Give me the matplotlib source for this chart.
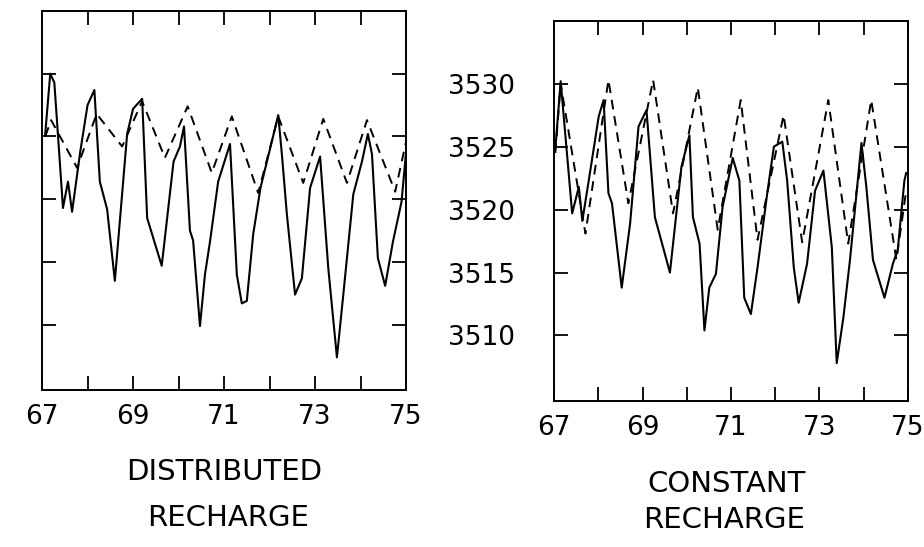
import numpy as np
import matplotlib.pyplot as plt

plt.rcParams['font.family'] = ['DejaVu Sans']

# ---------------- data ----------------
# left panel: distributed recharge
dist_obs_x = [67.07, 67.18, 67.27, 67.46, 67.57, 67.66, 67.84, 68.00, 68.15, 68.27,
              68.43, 68.60, 68.87, 69.00, 69.20, 69.31, 69.63, 69.89, 70.03, 70.12,
              70.25, 70.32, 70.47, 70.58, 70.69, 70.87, 71.13, 71.28, 71.39, 71.50,
              71.64, 71.80, 72.05, 72.19, 72.27, 72.38, 72.56, 72.71, 72.89, 73.11,
              73.29, 73.48, 73.62, 73.84, 74.03, 74.16, 74.25, 74.38, 74.54, 74.71,
              74.90, 75.00]
dist_obs_y = [3525.2, 3530.0, 3529.3, 3519.3, 3521.4, 3519.0, 3523.8, 3527.5, 3528.7, 3521.4,
              3519.2, 3513.5, 3525.2, 3527.2, 3528.0, 3518.5, 3514.7, 3523.0, 3524.2, 3525.8,
              3517.5, 3516.7, 3509.9, 3514.0, 3516.6, 3521.4, 3524.4, 3514.0, 3511.7, 3511.9,
              3517.2, 3520.9, 3524.6, 3526.7, 3523.6, 3518.8, 3512.4, 3513.7, 3520.9, 3523.4,
              3514.5, 3507.4, 3512.4, 3520.4, 3523.0, 3525.2, 3523.6, 3515.3, 3513.1, 3516.6,
              3519.8, 3523.8]
dist_sim_x = [67.07, 67.20, 67.77, 68.20, 68.76, 69.20, 69.70, 70.20, 70.73, 71.17,
              71.75, 72.19, 72.74, 73.18, 73.70, 74.14, 74.76, 75.00]
dist_sim_y = [3525.0, 3526.3, 3522.5, 3526.8, 3524.2, 3527.8, 3523.3, 3527.4, 3522.1, 3526.6,
              3520.5, 3526.6, 3521.3, 3526.4, 3521.3, 3526.3, 3520.6, 3524.6]

# right panel: constant recharge
const_obs_x = [67.04, 67.15, 67.41, 67.56, 67.64, 67.82, 68.01, 68.12, 68.23, 68.31,
               68.53, 68.72, 68.91, 69.09, 69.28, 69.62, 69.88, 70.06, 70.14, 70.29,
               70.40, 70.51, 70.66, 70.81, 71.04, 71.19, 71.30, 71.45, 71.60, 71.82,
               71.97, 72.16, 72.27, 72.42, 72.53, 72.72, 72.90, 73.09, 73.28, 73.39,
               73.54, 73.69, 73.95, 74.06, 74.21, 74.47, 74.66, 74.77, 74.92, 74.96]
const_obs_y = [3525.3, 3530.2, 3519.7, 3521.8, 3519.1, 3523.1, 3527.4, 3528.7, 3521.3, 3520.5,
               3513.8, 3518.9, 3526.6, 3527.9, 3519.4, 3515.0, 3523.4, 3525.9, 3519.4, 3517.3,
               3510.4, 3513.8, 3514.9, 3520.2, 3524.1, 3522.3, 3513.0, 3511.7, 3515.4, 3521.3,
               3525.0, 3525.4, 3522.3, 3515.4, 3512.6, 3515.7, 3521.5, 3523.1, 3517.0, 3507.8,
               3511.4, 3516.0, 3525.3, 3521.8, 3516.0, 3513.0, 3515.7, 3516.8, 3522.3, 3522.9]
const_sim_x = [67.03, 67.15, 67.71, 68.23, 68.68, 69.24, 69.69, 70.25, 70.70, 71.22,
               71.60, 72.19, 72.61, 73.20, 73.65, 74.17, 74.74, 74.96]
const_sim_y = [3524.5, 3530.0, 3518.1, 3530.3, 3520.5, 3530.3, 3519.7, 3529.7, 3518.4, 3528.7,
               3517.6, 3527.5, 3517.4, 3528.7, 3517.3, 3528.7, 3516.0, 3521.5]

x_ticks = list(range(67, 76))
x_labels = ['67', '', '69', '', '71', '', '73', '', '75']
y_ticks = [3510, 3515, 3520, 3525, 3530]

# ---------------- figure ----------------
fig = plt.figure(figsize=(9.24, 5.47), dpi=100)
ax1 = fig.add_axes([0.0455, 0.287, 0.394, 0.693])
ax2 = fig.add_axes([0.5996, 0.267, 0.383, 0.695])

for ax in (ax1, ax2):
    ax.set_xlim(67, 75)
    ax.set_ylim(3504.8, 3535)
    ax.set_xticks(x_ticks)
    ax.set_xticklabels(x_labels, fontsize=19)
    ax.set_yticks(y_ticks)
    ax.tick_params(direction='in', length=10, width=1.3, top=True, right=True)
    ax.tick_params(axis='x', pad=10)
    for s in ax.spines.values():
        s.set_linewidth(1.4)

ax1.set_yticklabels([])
ax2.set_yticklabels([str(v) for v in y_ticks], fontsize=19)
ax2.tick_params(axis='y', pad=28)

ax1.plot(dist_obs_x, dist_obs_y, color='black', lw=1.5)
ax1.plot(dist_sim_x, dist_sim_y, color='black', lw=1.4, dashes=(5, 3.5))
ax2.plot(const_obs_x, const_obs_y, color='black', lw=1.5)
ax2.plot(const_sim_x, const_sim_y, color='black', lw=1.4, dashes=(5, 3.5))

fig.text(0.243, 0.137, 'DISTRIBUTED', ha='center', va='center', fontsize=21)
fig.text(0.247, 0.053, 'RECHARGE', ha='center', va='center', fontsize=21)
fig.text(0.786, 0.115, 'CONSTANT', ha='center', va='center', fontsize=21)
fig.text(0.784, 0.049, 'RECHARGE', ha='center', va='center', fontsize=21)

fig.savefig('out.png', dpi=100)
